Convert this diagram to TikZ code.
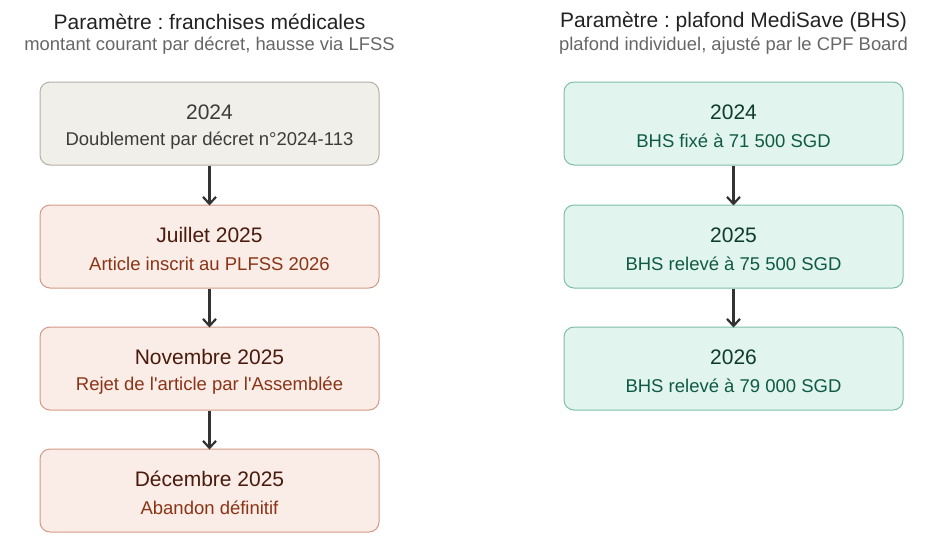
\documentclass[tikz,border=0pt]{standalone}
\usepackage{fontspec}
\setmainfont{Liberation Sans}[Ligatures=TeXOff]
\usetikzlibrary{arrows.meta}
\definecolor{titc}{HTML}{222222}
\definecolor{subc}{HTML}{666666}
\definecolor{gfill}{HTML}{F1EFE9}
\definecolor{gdraw}{HTML}{B4B0A6}
\definecolor{gtxt}{HTML}{3C3C3A}
\definecolor{rfill}{HTML}{FAECE7}
\definecolor{rdraw}{HTML}{D29A86}
\definecolor{rtit}{HTML}{4A1B0C}
\definecolor{rsub}{HTML}{8A3416}
\definecolor{vfill}{HTML}{E1F5EE}
\definecolor{vdraw}{HTML}{7DBFA6}
\definecolor{vtit}{HTML}{0E3B2F}
\definecolor{vsub}{HTML}{0F5A45}
\definecolor{arr}{HTML}{333333}
\tikzset{
  box/.style={draw, rounded corners=10pt, line width=1pt, minimum width=339pt, minimum height=83pt, inner sep=0pt},
  graybox/.style={box, fill=gfill, draw=gdraw},
  redbox/.style={box, fill=rfill, draw=rdraw},
  greenbox/.style={box, fill=vfill, draw=vdraw},
  yr/.style={font=\fontsize{21}{24}\selectfont},
  ds/.style={font=\fontsize{18.5}{21}\selectfont},
  conn/.style={draw=arr, line width=2.2pt, shorten >=-1pt, -{Straight Barb[length=7pt,width=13pt,line width=2.2pt]}},
}
\begin{document}
\frenchspacing
\begin{tikzpicture}[x=1pt,y=-1pt]
\useasboundingbox (0,0) rectangle (952,552);
% titles
\node[font=\fontsize{21}{24}\selectfont, text=titc] (t1) at (209.5,22) {Paramètre : franchises médicales};
\node[font=\fontsize{18.4}{21}\selectfont, text=subc] (s1) at (209.5,46) {montant courant par décret, hausse via LFSS};
\node[font=\fontsize{21}{24}\selectfont, text=titc] (t2) at (733.5,22) {Paramètre : plafond MediSave (BHS)};
\node[font=\fontsize{18.4}{21}\selectfont, text=subc] (s2) at (733.5,46) {plafond individuel, ajusté par le CPF Board};
% left column
\node[graybox] (a1) at (209.5,123.5) {};
\node[yr, text=gtxt] (a1y) at (209.5,112) {2024};
\node[ds, text=gtxt] (a1d) at (209.5,141) {Doublement par décret n°2024-113};
\node[redbox] (a2) at (209.5,246.5) {};
\node[yr, text=rtit] (a2y) at (209.5,235) {Juillet 2025};
\node[ds, text=rsub] (a2d) at (209.5,264) {Article inscrit au PLFSS 2026};
\node[redbox] (a3) at (209.5,368.5) {};
\node[yr, text=rtit] (a3y) at (209.5,357) {Novembre 2025};
\node[ds, text=rsub] (a3d) at (209.5,386) {Rejet de l'article par l'Assemblée};
\node[redbox] (a4) at (209.5,490.5) {};
\node[yr, text=rtit] (a4y) at (209.5,479) {Décembre 2025};
\node[ds, text=rsub] (a4d) at (209.5,508) {Abandon définitif};
% right column
\node[greenbox] (b1) at (733.5,123.5) {};
\node[yr, text=vtit] (b1y) at (733.5,112) {2024};
\node[ds, text=vsub] (b1d) at (733.5,141) {BHS fixé à 71 500 SGD};
\node[greenbox] (b2) at (733.5,246.5) {};
\node[yr, text=vtit] (b2y) at (733.5,235) {2025};
\node[ds, text=vsub] (b2d) at (733.5,264) {BHS relevé à 75 500 SGD};
\node[greenbox] (b3) at (733.5,368.5) {};
\node[yr, text=vtit] (b3y) at (733.5,357) {2026};
\node[ds, text=vsub] (b3d) at (733.5,386) {BHS relevé à 79 000 SGD};
% connectors
\draw[conn] (a1.south) -- (a2.north);
\draw[conn] (a2.south) -- (a3.north);
\draw[conn] (a3.south) -- (a4.north);
\draw[conn] (b1.south) -- (b2.north);
\draw[conn] (b2.south) -- (b3.north);
\end{tikzpicture}
\end{document}
